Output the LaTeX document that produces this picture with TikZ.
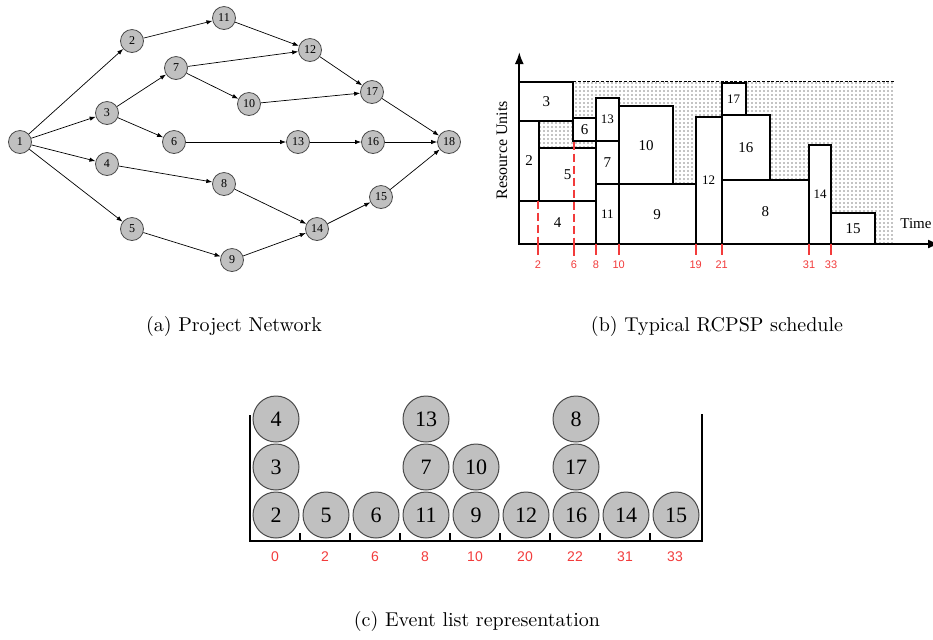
\documentclass[tikz,border=0pt]{standalone}
\usepackage{fontspec}
\usepackage{xcolor}
\usepackage{tikz}
\usetikzlibrary{arrows.meta,patterns.meta}
\newfontfamily\timesfont{Liberation Serif}
\newfontfamily\arialfont{Liberation Sans}
\definecolor{nodegray}{HTML}{C0C0C0}
\definecolor{rimgray}{HTML}{4A4A4A}
\definecolor{tickred}{HTML}{F23B3B}

\begin{document}
\begin{tikzpicture}[
  x=0.5pt, y=-0.5pt,
  netnode/.style={
    circle, draw=rimgray, fill=nodegray, line width=0.4pt,
    minimum size=11.5pt, inner sep=0pt,
    font=\timesfont\fontsize{6}{6}\selectfont
  },
  arr/.style={-{Latex[length=3pt,width=2.2pt]}, line width=0.35pt},
  job/.style={draw, line width=1pt, fill=white},
  joblab/.style={font=\timesfont\fontsize{7.5}{8}\selectfont},
  jobsmall/.style={font=\timesfont\fontsize{6.5}{7}\selectfont},
  axis/.style={line width=1pt, -{Latex[length=6pt,width=4.5pt]}},
  redline/.style={tickred, line width=0.8pt},
  redlab/.style={tickred, font=\arialfont\fontsize{5.5}{6}\selectfont},
  evnode/.style={
    circle, draw=rimgray, fill=nodegray, line width=0.5pt,
    minimum size=23pt, inner sep=0pt,
    font=\timesfont\fontsize{11}{11}\selectfont
  },
  evlab/.style={tickred, font=\arialfont\fontsize{7}{8}\selectfont}
]
  \useasboundingbox (0,0) rectangle (933,639);

  % (a) project network
  \node[netnode] (n1) at (20,142) {1};
  \node[netnode] (n2) at (132,41) {2};
  \node[netnode] (n3) at (107,113) {3};
  \node[netnode] (n4) at (107,164) {4};
  \node[netnode] (n5) at (132,229) {5};
  \node[netnode] (n6) at (174,142) {6};
  \node[netnode] (n7) at (176,68) {7};
  \node[netnode] (n8) at (224,184) {8};
  \node[netnode] (n9) at (232,260) {9};
  \node[netnode] (n10) at (249,104) {10};
  \node[netnode] (n11) at (224,18) {11};
  \node[netnode] (n12) at (310,50) {12};
  \node[netnode] (n13) at (298,142) {13};
  \node[netnode] (n14) at (317,229) {14};
  \node[netnode] (n15) at (381,197) {15};
  \node[netnode] (n16) at (373,142) {16};
  \node[netnode] (n17) at (372,92) {17};
  \node[netnode] (n18) at (449,142) {18};

  \foreach \a/\b in {1/2, 1/3, 1/4, 1/5, 2/11, 11/12, 3/7, 3/6, 7/12,
      7/10, 10/17, 12/17, 17/18, 6/13, 13/16, 16/18, 4/8, 8/14, 5/9,
      9/14, 14/15, 15/18}
    \draw[arr] (n\a) -- (n\b);

  \node (capa) at (234,326) {(a) Project Network};

  % (b) schedule
  \fill[pattern={Dots[distance=2pt,radius=0.3pt]}, pattern color=black]
    (519.3,81.7) rectangle (895,244);
  \draw[line width=0.5pt, dash pattern=on 1.5pt off 0.8pt]
    (573.3,81.7) -- (895,81.7);

  \foreach \j/\xa/\ya/\xb/\yb in {4/519.3/200.7/596/244, 2/519.3/121/539/200.7,
      3/519.3/81.7/573.3/121, 5/539/148.3/596/200.7, 6/573.3/117.7/596/140.7,
      7/596/140.7/618.7/184.3, 10/618.7/106/673.3/184.3,
      9/618.7/184.3/695.7/244, 16/721.7/115/770/180, 8/721.7/180/809/244,
      15/831/212.7/875/244}
    \draw[job] (\xa,\ya) rectangle (\xb,\yb) node[midway, joblab] (j\j) {\j};
  \foreach \j/\xa/\ya/\xb/\yb in {13/596/98.3/618.7/140.7,
      11/596/184.3/618.7/244, 12/695.7/116.7/721.7/244,
      17/721.7/83.3/745.7/115, 14/809/145/831/244}
    \draw[job] (\xa,\ya) rectangle (\xb,\yb) node[midway, jobsmall] (j\j) {\j};

  \draw[axis] (519.3,244) -- (519.3,52);
  \draw[axis] (519.3,244) -- (940,244);
  \node[rotate=90, font=\timesfont\fontsize{8}{9}\selectfont] (units)
    at (502,150) {Resource Units};
  \node[anchor=west, inner sep=0pt, font=\timesfont\fontsize{7.5}{9}\selectfont]
    (timelab) at (900,224) {Time};

  \draw[redline, dash pattern=on 4pt off 2pt] (538,200.7) -- (538,255);
  \draw[redline, dash pattern=on 4pt off 2pt] (574,141.5) -- (574,256);
  \foreach \t/\xt in {2/538, 6/574, 8/596, 10/618.7, 19/695.7,
      21/721.7, 31/809, 33/831} {
    \draw[redline] (\xt,244) -- (\xt,255);
    \node[redlab] (t\t) at (\xt,265) {\t};
  }

  \node (capb) at (717,326) {(b) Typical RCPSP schedule};

  % (c) event list
  \foreach \j/\c/\r in {2/0/0, 3/0/1, 4/0/2, 5/1/0, 6/2/0, 11/3/0, 7/3/1,
      13/3/2, 9/4/0, 10/4/1, 12/5/0, 16/6/0, 17/6/1, 8/6/2, 14/7/0, 15/8/0}
    \node[evnode] (ev\j) at (276+50*\c, 515-48*\r) {\j};

  \draw[line width=1pt] (250,415) -- (250,540.7) -- (701.7,540.7) -- (701.7,414);
  \foreach \k in {1,...,8}
    \draw[line width=0.6pt] (250+50*\k,533) -- (250+50*\k,540.7);
  \foreach \v [count=\c from 0] in {0,2,6,8,10,20,22,31,33}
    \node[evlab] (el\c) at (275+50*\c,557) {\v};

  \node (capc) at (477,621) {(c) Event list representation};
\end{tikzpicture}
\end{document}
